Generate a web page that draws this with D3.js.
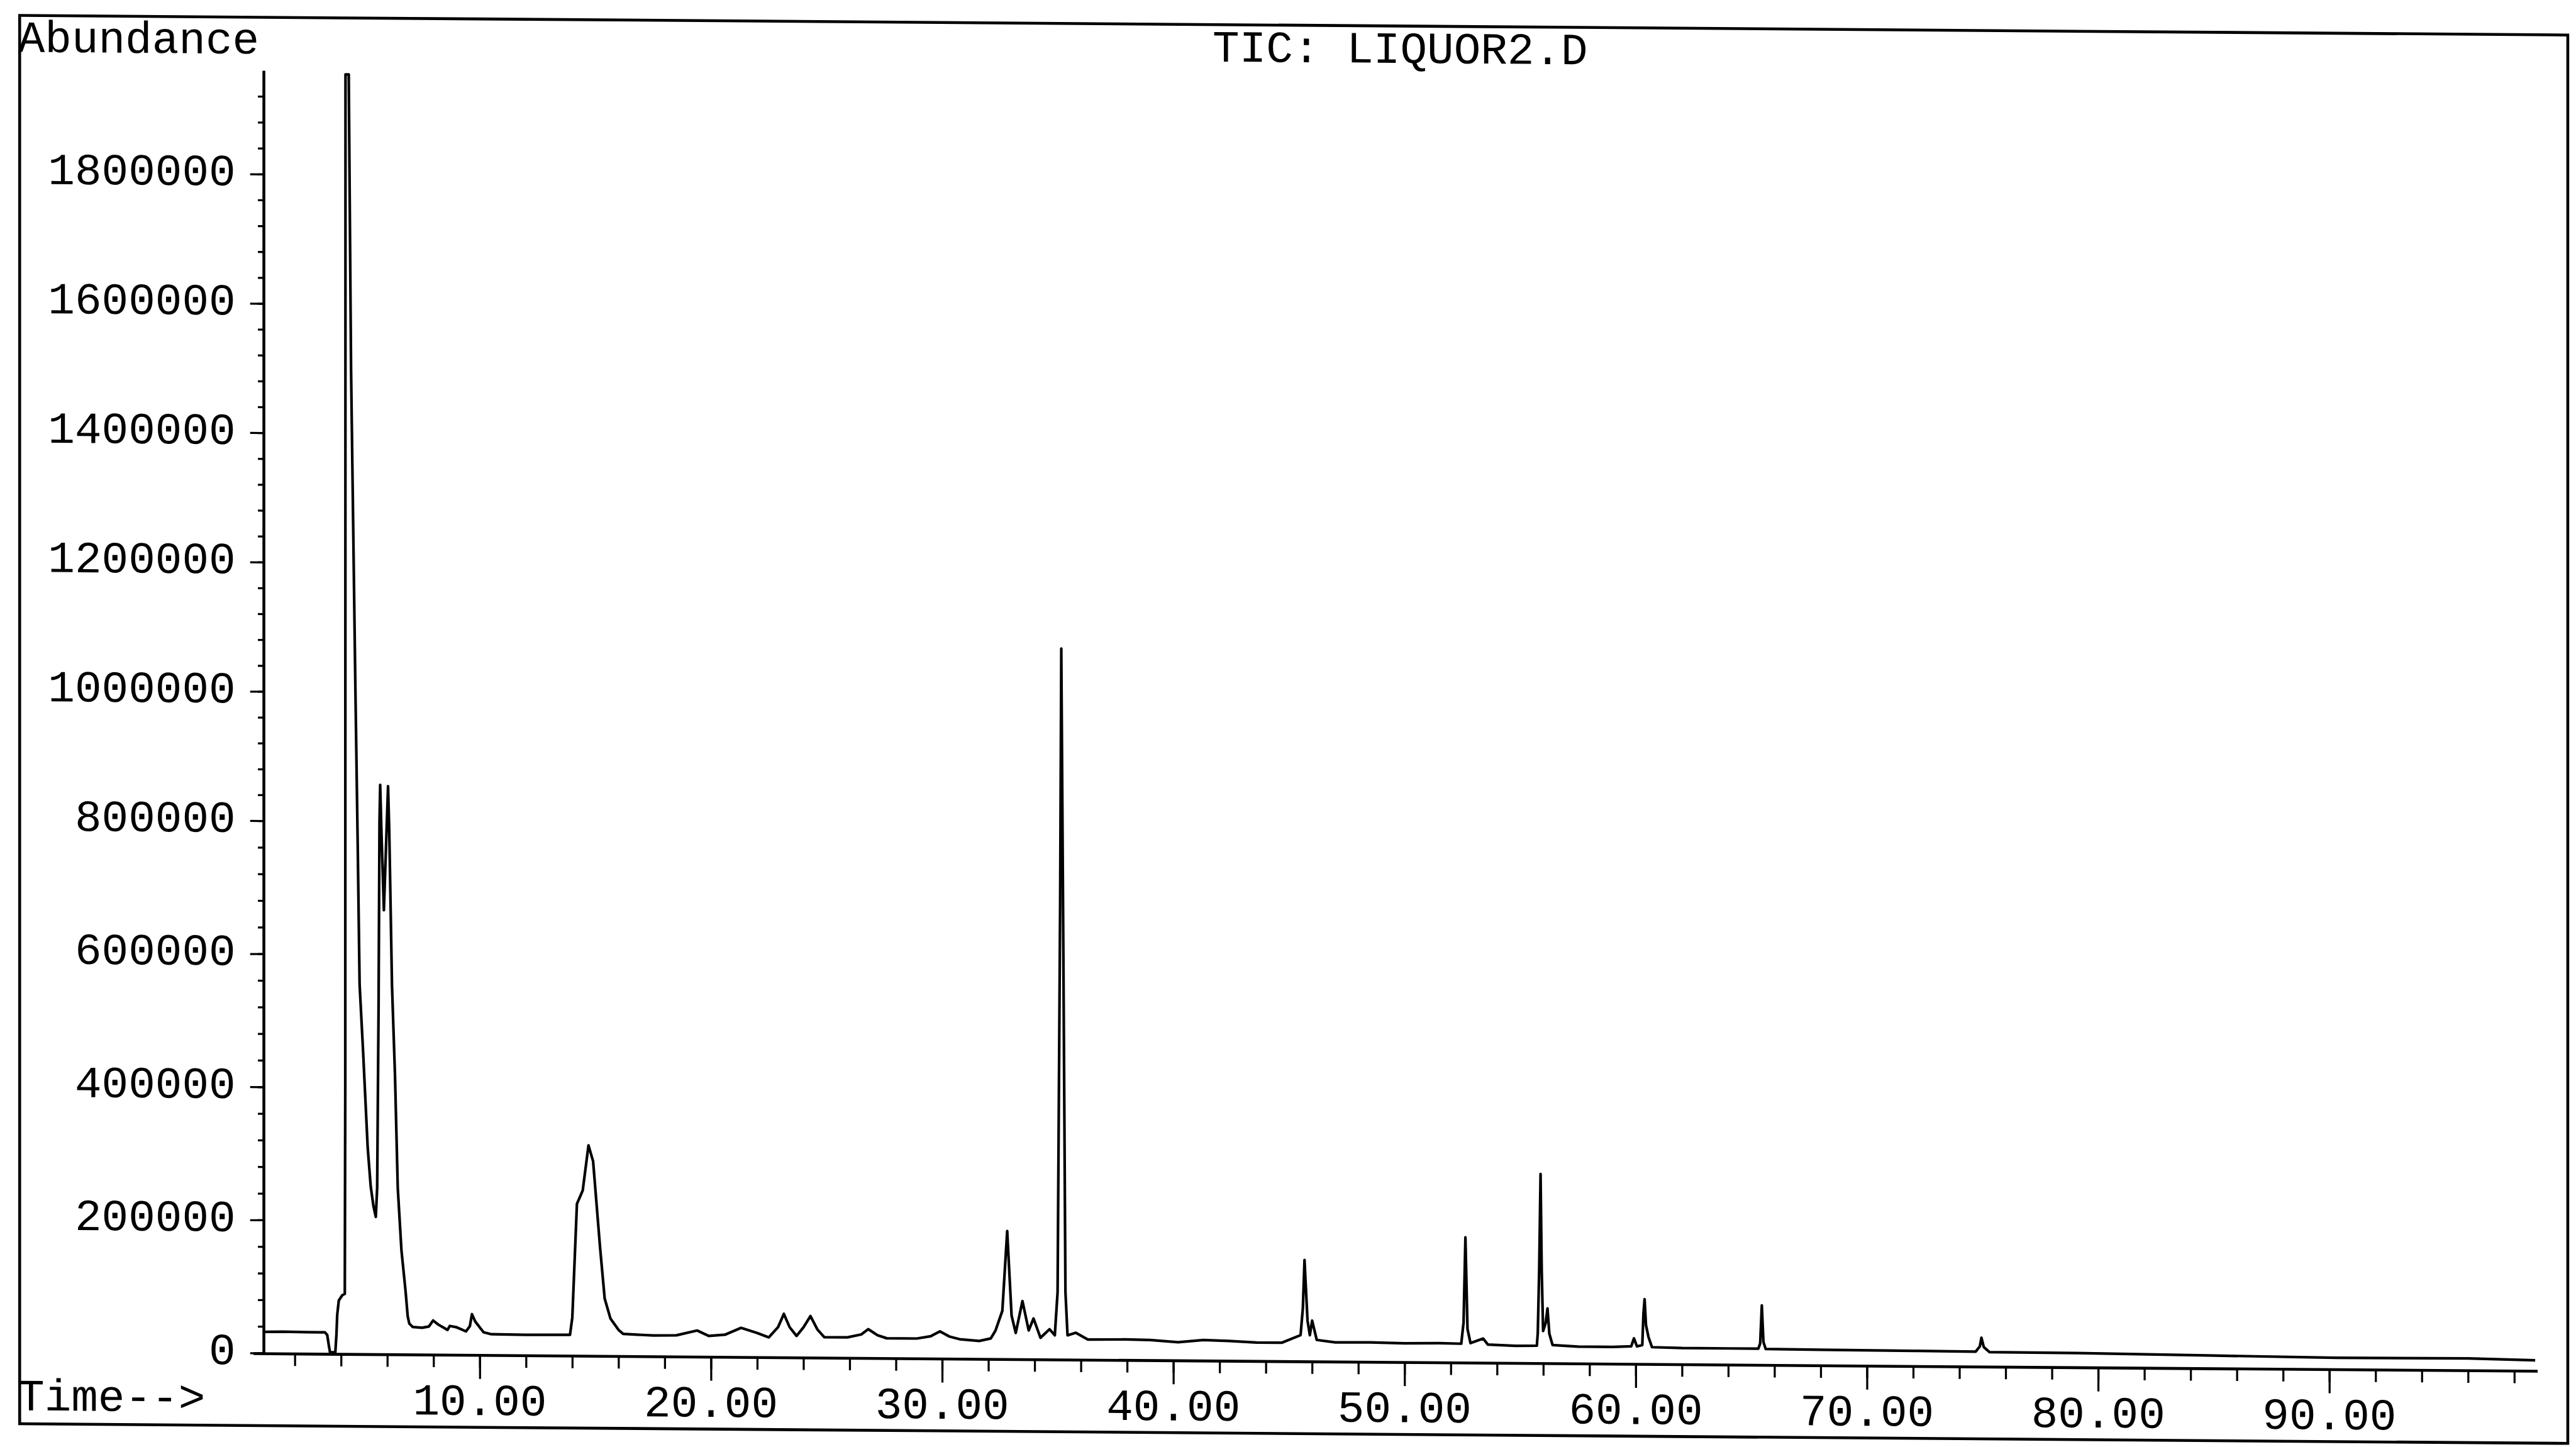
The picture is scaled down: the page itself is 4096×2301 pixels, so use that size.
<!DOCTYPE html>
<html>
<head>
<meta charset="utf-8">
<title>TIC: LIQUOR2.D</title>
<script src="https://cdn.jsdelivr.net/npm/d3@7"></script>
<style>
  html, body { margin: 0; padding: 0; background: #fff; overflow: hidden; }
  svg { display: block; }
</style>
</head>
<body>
<svg id="chart"></svg>
<script>
// Total ion chromatogram, retention time (min) vs abundance
const retentionTime = [
  0.65, 1.5, 2.5, 3.30, 3.40, 3.47, 3.52, 3.75, 3.80, 3.83, 3.90, 4.05, 4.16, 4.18, 4.19,
  4.33, 4.43, 4.62, 4.72, 4.80, 4.95, 5.15, 5.28, 5.40, 5.50, 5.56, 5.62, 5.66, 5.69, 5.74,
  5.85, 5.94, 6.03, 6.08, 6.12, 6.20, 6.33, 6.45, 6.61, 6.79, 6.88, 6.95, 7.10, 7.50, 7.80,
  7.98, 8.20, 8.50, 8.60, 8.70, 9.00, 9.40, 9.57, 9.66, 9.80, 10.16, 10.50, 12.00, 13.90, 14.00,
  14.20, 14.45, 14.70, 14.90, 15.20, 15.40, 15.65, 16.00, 16.20, 17.50, 18.50, 19.40, 19.90, 20.60, 21.30,
  22.00, 22.50, 22.90, 23.15, 23.40, 23.70, 24.00, 24.30, 24.60, 24.90, 25.90, 26.50, 26.80, 27.20, 27.60,
  28.90, 29.50, 29.90, 30.30, 30.75, 31.60, 32.10, 32.30, 32.60, 32.81, 33.00, 33.18, 33.47, 33.74, 33.95,
  34.25, 34.64, 34.87, 34.99, 35.10, 35.15, 35.24, 35.33, 35.42, 35.78, 36.30, 37.90, 39.00, 40.20, 41.30,
  42.40, 43.60, 44.70, 45.50, 45.60, 45.67, 45.80, 45.90, 46.00, 46.20, 47.00, 48.50, 50.00, 51.50, 52.45,
  52.55, 52.63, 52.72, 52.85, 53.40, 53.60, 54.80, 55.72, 55.76, 55.82, 55.88, 55.93, 55.99, 56.10, 56.18,
  56.26, 56.40, 57.50, 59.00, 59.80, 59.92, 60.05, 60.28, 60.33, 60.38, 60.44, 60.55, 60.70, 62.00, 64.00,
  65.30, 65.38, 65.45, 65.52, 65.62, 68.00, 72.00, 74.70, 74.88, 74.95, 75.05, 75.30, 79.10, 84.70, 90.30,
  96.00, 98.90
];
const abundance = [
  32000, 32500, 32000, 32000, 28000, 12000, 2000, 2000, 30000, 58000, 80000, 88000, 90000, 400000, 1955000,
  1955000, 1500000, 1000000, 760000, 555000, 455000, 310000, 252000, 222000, 206000, 250000, 520000, 800000, 857000, 790000,
  667000, 760000, 855000, 790000, 713000, 555000, 420000, 250000, 156000, 94000, 57000, 46000, 41000, 40000, 42000,
  51000, 45000, 39000, 37000, 43000, 41000, 35000, 43000, 61000, 50000, 34000, 31000, 30500, 31000, 57000,
  228000, 248000, 316000, 292000, 163000, 86000, 56000, 39000, 33000, 31000, 31500, 39000, 31000, 33000, 43500,
  36000, 29500, 45000, 65000, 45000, 32000, 45000, 62000, 42000, 30500, 30500, 35000, 43000, 34000, 29500,
  29500, 33000, 40500, 33000, 29000, 26500, 30500, 42000, 72000, 192000, 65000, 39000, 87000, 43000, 61000,
  32000, 45000, 36000, 101000, 683000, 1076000, 610000, 101000, 36000, 40000, 30000, 30500, 30000, 27000, 30500,
  29500, 27500, 27500, 39000, 80000, 152000, 61000, 39000, 61000, 32000, 28500, 29000, 28000, 28500, 28000,
  60000, 188000, 50000, 29000, 36000, 27000, 25500, 26000, 45000, 140000, 284000, 140000, 48000, 60000, 82000,
  44000, 27000, 25000, 25000, 26000, 38000, 26000, 28000, 75000, 97000, 58000, 40000, 25000, 24000, 24000,
  24000, 32000, 89000, 34000, 23500, 23000, 22500, 22000, 30000, 43000, 29000, 21500, 21000, 19000, 17000,
  17500, 15500
];

// Axis ticks
const yMajorTicks = [0, 200000, 400000, 600000, 800000, 1000000, 1200000, 1400000, 1600000, 1800000];
const yMinorTicks = d3.range(0, 1920001, 40000);
const xMajorTicks = [10, 20, 30, 40, 50, 60, 70, 80, 90];
const xMinorTicks = d3.range(2, 99, 2);
const xTickLabels = ["10.00", "20.00", "30.00", "40.00", "50.00", "60.00", "70.00", "80.00", "90.00"];
const yTickLabels = ["0", "200000", "400000", "600000", "800000", "1000000", "1200000", "1400000", "1600000", "1800000"];

const chartTitle = "TIC: LIQUOR2.D";
const yTitle = "Abundance";
const xTitle = "Time-->";

// Drawing space (viewBox units); the SVG is scaled to the window
const W = 6286, H = 3531;
const FONT = "'Liberation Mono', 'Courier New', monospace";
const FS = 109;
const SLOPE = 0.0077;      // slight downward drift of the printed page to the right
const PIVOT_X = 640;

const svg = d3.select("#chart")
  .attr("width", 4096)
  .attr("height", 2301)
  .attr("viewBox", `0 0 ${W} ${H}`);

svg.append("rect").attr("width", W).attr("height", H).attr("fill", "#fff");

const g = svg.append("g")
  .attr("transform", `matrix(1,${SLOPE},0,1,0,${-SLOPE * PIVOT_X})`);

// Scales
const x = d3.scaleLinear().domain([0.2, 99]).range([618, 6192]);
const y = d3.scaleLinear()
  .domain([0, 800000, 1800000, 1960000])
  .range([3302, 2003, 425, 172]);

// Outer frame
g.append("rect")
  .attr("x", 48).attr("y", 42)
  .attr("width", 6266 - 48).attr("height", 3479 - 42)
  .attr("fill", "none").attr("stroke", "#000").attr("stroke-width", 7);

// Y axis
const yAxisX = x(0.65);
const yAxisG = g.append("g").attr("transform", `translate(${yAxisX},0)`);
yAxisG.call(d3.axisLeft(y).tickValues(yMinorTicks).tickSize(14).tickSizeOuter(0).tickFormat(""));
yAxisG.append("g").call(d3.axisLeft(y).tickValues(yMajorTicks).tickSize(33).tickSizeOuter(0).tickFormat(""))
  .select(".domain").remove();
yAxisG.selectAll(".domain").attr("stroke", "#000").attr("stroke-width", 7);
yAxisG.selectAll(".tick line").attr("stroke", "#000").attr("stroke-width", 5);

// X axis
const xAxisG = g.append("g").attr("transform", `translate(0,${y(0) + 1})`);
xAxisG.call(d3.axisBottom(x).tickValues(xMinorTicks).tickSize(30).tickSizeOuter(0).tickFormat(""));
xAxisG.append("g").call(d3.axisBottom(x).tickValues(xMajorTicks).tickSize(58).tickSizeOuter(0).tickFormat(""))
  .select(".domain").remove();
xAxisG.selectAll(".domain").attr("stroke", "#000").attr("stroke-width", 7);
xAxisG.selectAll(".tick line").attr("stroke", "#000").attr("stroke-width", 5);

// Tick labels
const text = (sel) => sel
  .attr("font-family", FONT)
  .attr("font-size", FS)
  .attr("fill", "#000");

g.append("g").selectAll("text")
  .data(yMajorTicks)
  .join("text")
  .attr("x", 575)
  .attr("y", d => y(d) + 28)
  .attr("text-anchor", "end")
  .text((d, i) => yTickLabels[i])
  .call(text);

g.append("g").selectAll("text")
  .data(xMajorTicks)
  .join("text")
  .attr("x", d => x(d))
  .attr("y", 3449)
  .attr("text-anchor", "middle")
  .text((d, i) => xTickLabels[i])
  .call(text);

// Titles
g.append("text").attr("x", 44).attr("y", 131).text(yTitle).call(text);
g.append("text").attr("x", 43).attr("y", 3446).text(xTitle).call(text);
g.append("text").attr("x", 2959).attr("y", 132).text(chartTitle).call(text);

// Chromatogram trace
const points = retentionTime.map((t, i) => ({ t, v: abundance[i] }));
const line = d3.line().x(d => x(d.t)).y(d => y(d.v));
g.append("path")
  .datum(points)
  .attr("d", line)
  .attr("fill", "none")
  .attr("stroke", "#000")
  .attr("stroke-width", 6.5)
  .attr("stroke-linejoin", "round");
</script>
</body>
</html>
